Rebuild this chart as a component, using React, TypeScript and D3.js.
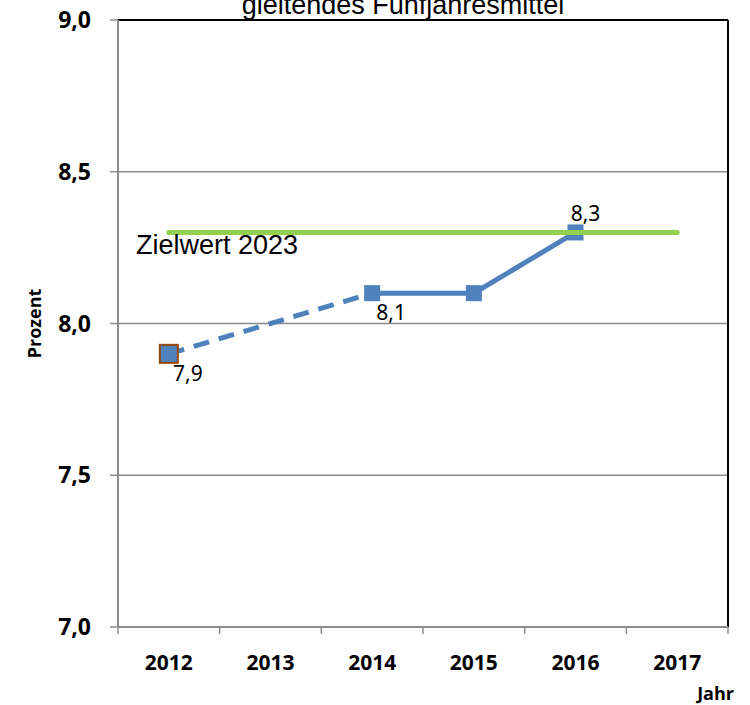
import React from 'react';
import * as d3 from 'd3';

const years = ['2012', '2013', '2014', '2015', '2016', '2017'];
const values: (number | null)[] = [7.9, null, 8.1, 8.1, 8.3, null];
const labelText = ['7,9', '', '8,1', '', '8,3', ''];
const yTicks = [7.0, 7.5, 8.0, 8.5, 9.0];
const targetValue = 8.3;
const targetLabel = 'Zielwert 2023';
const title = 'gleitendes Fünfjahresmittel';

const W = 750;
const H = 705;
const margin = { top: 20, right: 22, bottom: 78, left: 118 };
const blue = '#4F81BD';
const green = '#92D050';

export default function App() {
  const x = d3
    .scaleBand<string>()
    .domain(years)
    .range([margin.left, W - margin.right]);
  const y = d3
    .scaleLinear()
    .domain([7, 9])
    .range([H - margin.bottom, margin.top]);
  const cx = (yr: string) => (x(yr) ?? 0) + x.bandwidth() / 2;
  const fmt = (v: number) => v.toFixed(1).replace('.', ',');

  const pts = years
    .map((yr, i) => ({ yr, v: values[i], label: labelText[i], i }))
    .filter((d) => d.v !== null) as { yr: string; v: number; label: string; i: number }[];

  const line = d3
    .line<{ yr: string; v: number }>()
    .x((d) => cx(d.yr))
    .y((d) => y(d.v));

  // gap 2013 -> dashed bridge between 2012 and 2014
  const dashed = line(pts.slice(0, 2)) ?? '';
  const solid = line(pts.slice(1)) ?? '';

  const x0 = margin.left;
  const x1 = W - margin.right;
  const yBottom = y(7);
  const yTop = y(9);

  const tickFont = "'Open Sans', 'DejaVu Sans', sans-serif";

  return (
    <svg
      width={W}
      height={H}
      style={{ position: 'absolute', left: 0, top: 0, background: '#fff' }}
    >
      {/* gridlines */}
      {yTicks
        .filter((t) => t > 7 && t < 9)
        .map((t) => (
          <line key={t} x1={x0} x2={x1} y1={y(t)} y2={y(t)} stroke="#8c8c8c" strokeWidth={1.5} />
        ))}
      {/* frame */}
      <line x1={x0} x2={x1} y1={yTop} y2={yTop} stroke="#000" strokeWidth={2} />
      <line x1={x1} x2={x1} y1={yTop} y2={yBottom} stroke="#000" strokeWidth={2} />
      <line x1={x0} x2={x0} y1={yTop} y2={yBottom} stroke="#8c8c8c" strokeWidth={2} />
      <line x1={x0} x2={x1} y1={yBottom} y2={yBottom} stroke="#8c8c8c" strokeWidth={2} />

      {/* y ticks */}
      {yTicks.map((t) => (
        <g key={t}>
          <line x1={x0 - 8} x2={x0} y1={y(t)} y2={y(t)} stroke="#8c8c8c" strokeWidth={1.5} />
          <text
            x={91}
            y={y(t) + 8}
            textAnchor="end"
            fontFamily={tickFont}
            fontWeight="bold"
            fontSize={23}
          >
            {fmt(t)}
          </text>
        </g>
      ))}

      {/* x ticks */}
      {[...years.map((yr) => x(yr) ?? 0), x1].map((px, i) => (
        <line key={i} x1={px} x2={px} y1={yBottom} y2={yBottom + 7} stroke="#8c8c8c" strokeWidth={1.5} />
      ))}
      {years.map((yr) => (
        <text
          key={yr}
          x={cx(yr)}
          y={670}
          textAnchor="middle"
          fontFamily={tickFont}
          fontWeight="bold"
          fontSize={21}
        >
          {yr}
        </text>
      ))}

      {/* axis titles */}
      <text
        transform={`translate(41, ${y(8)}) rotate(-90)`}
        textAnchor="middle"
        fontFamily={tickFont}
        fontWeight="bold"
        fontSize={18}
      >
        Prozent
      </text>
      <text x={734} y={700} textAnchor="end" fontFamily={tickFont} fontWeight="bold" fontSize={18}>
        Jahr
      </text>

      {/* title, partly cut off at top like the reference */}
      <text
        x={403}
        y={14}
        textAnchor="middle"
        fontFamily="'Liberation Sans', Arial, sans-serif"
        fontSize={27}
      >
        {title}
      </text>

      {/* series */}
      <path d={dashed} fill="none" stroke={blue} strokeWidth={5} strokeDasharray="16 10" />
      <path d={solid} fill="none" stroke={blue} strokeWidth={5} />
      {pts.map((d) =>
        d.i === 0 ? (
          <rect
            key={d.yr}
            x={cx(d.yr) - 9}
            y={y(d.v) - 9}
            width={18}
            height={18}
            fill={blue}
            stroke="#984807"
            strokeWidth={2}
          />
        ) : (
          <rect key={d.yr} x={cx(d.yr) - 8} y={y(d.v) - 8} width={16} height={16} fill={blue} />
        )
      )}

      {/* target line */}
      <line
        x1={cx(years[0])}
        x2={cx(years[years.length - 1])}
        y1={y(targetValue)}
        y2={y(targetValue)}
        stroke={green}
        strokeWidth={5}
        strokeLinecap="round"
      />
      <text x={136} y={254} fontFamily="'Liberation Sans', Arial, sans-serif" fontSize={27}>
        {targetLabel}
      </text>

      {/* data labels */}
      {pts
        .filter((d) => d.label)
        .map((d) => {
          const above = d.i === 4;
          return (
            <text
              key={d.yr}
              x={cx(d.yr) + (above ? 10 : 19)}
              y={above ? y(d.v) - 11 : y(d.v) + 27}
              textAnchor="middle"
              fontFamily="'Noto Sans', 'Open Sans', sans-serif"
              fontSize={21}
            >
              {d.label}
            </text>
          );
        })}
    </svg>
  );
}
